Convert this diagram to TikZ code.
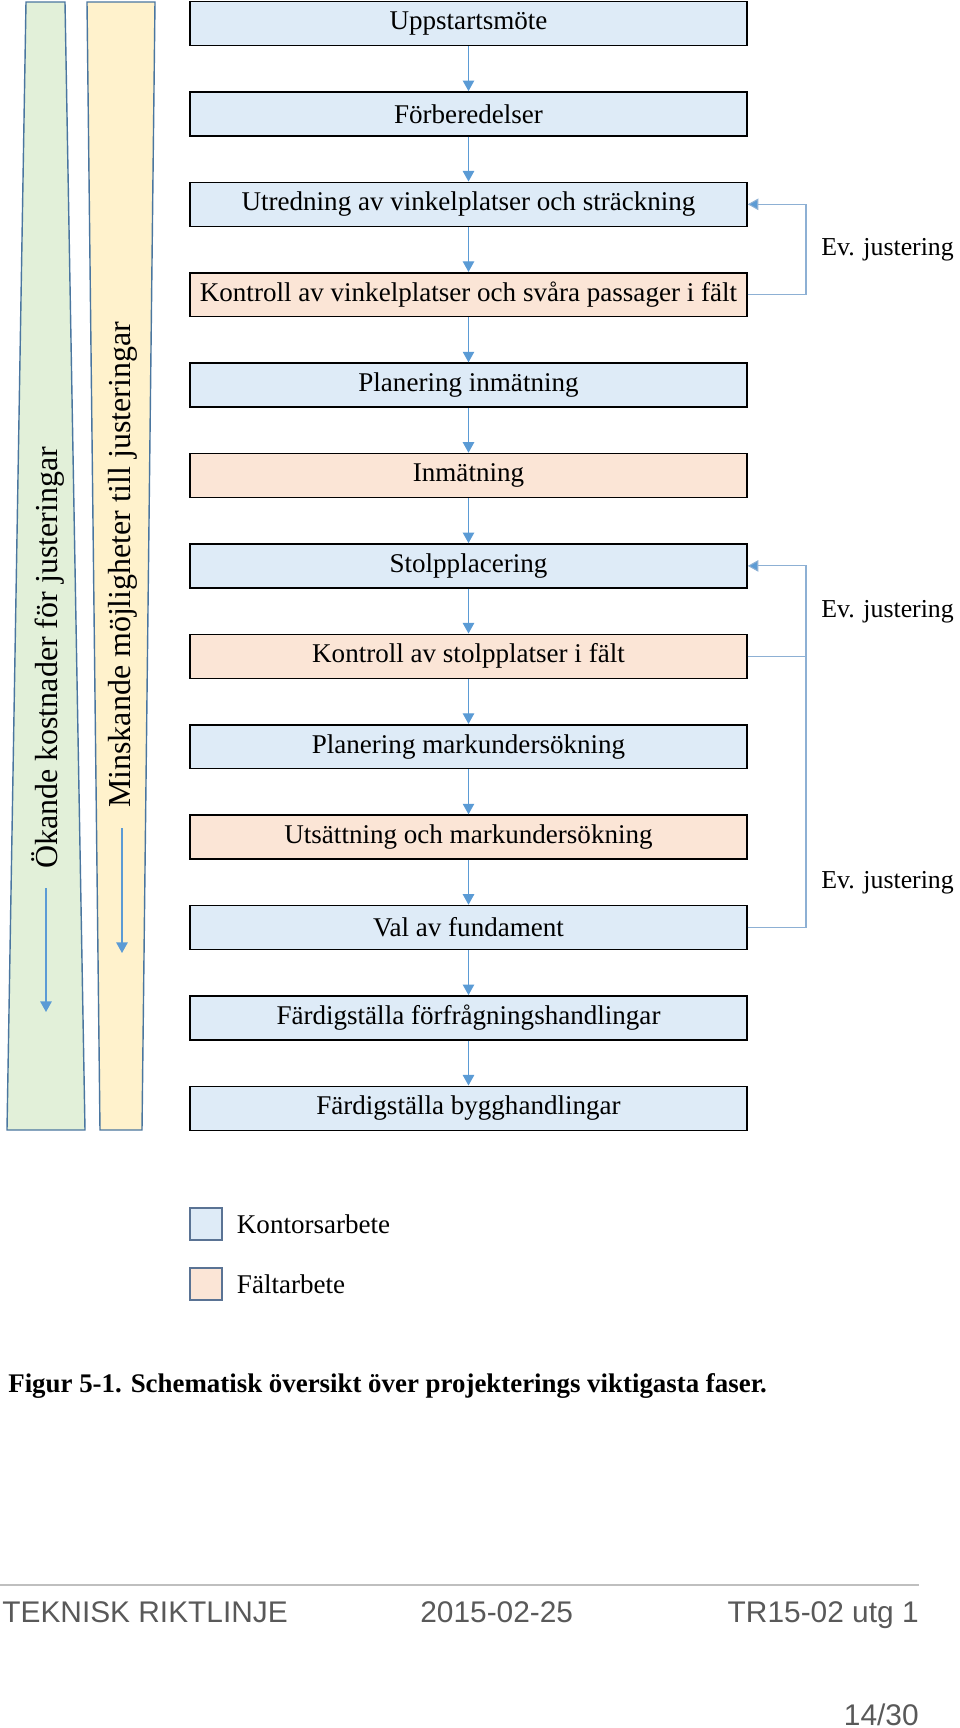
\documentclass[tikz,border=0pt]{standalone}
\usepackage{fontspec}
\setmainfont{Liberation Serif}
\newfontfamily\footfont{Liberation Sans}
\usetikzlibrary{arrows.meta,positioning}

\definecolor{kontorbla}{HTML}{DEEBF7}
\definecolor{faltrosa}{HTML}{FBE5D6}
\definecolor{okandegron}{HTML}{E2F0D9}
\definecolor{minskgul}{HTML}{FFF2CC}
\definecolor{stapelkant}{HTML}{4A76A0}
\definecolor{pilbla}{HTML}{5B9BD5}
\definecolor{returbla}{HTML}{8DB0D4}
\definecolor{legkant}{HTML}{5A7394}
\definecolor{sidfot}{HTML}{595959}

\begin{document}
\begin{tikzpicture}[x=0.02cm, y=-0.02cm,
	fas/.style={draw=black, line width=0.9pt, minimum width=11.14cm, minimum height=0.88cm, inner sep=0pt, font=\fontsize{15.4}{18}\selectfont},
	kontorruta/.style={fas, fill=kontorbla},
	faltruta/.style={fas, fill=faltrosa},
	flode/.style={draw=pilbla, line width=0.7pt, -{Triangle[width=6.5pt,length=6pt]}},
	retur/.style={draw=returbla, line width=0.6pt},
	returpil/.style={retur, -{Triangle[width=6.5pt,length=6pt,fill=pilbla]}},
	stapel/.style={draw=stapelkant, line width=0.8pt},
	sidtext/.style={rotate=90, font=\fontsize{18.2}{22}\selectfont},
	evtext/.style={anchor=west, inner sep=0pt, font=\fontsize{14.7}{18}\selectfont},
	legruta/.style={draw=legkant, line width=0.7pt, minimum size=0.64cm, inner sep=0pt},
	fottext/.style={text=sidfot, inner sep=0pt, font=\footfont\fontsize{17}{20}\selectfont}]

	\useasboundingbox (0,0) rectangle (960,1728);

	\filldraw[stapel, fill=okandegron] (26,2) -- (65,2) -- (85,1130) -- (7,1130) -- cycle;
	\filldraw[stapel, fill=minskgul] (87,2) -- (155,2) -- (142,1130) -- (100,1130) -- cycle;
	\node[sidtext] (okande) at (48,658) {Ökande kostnader för justeringar};
	\node[sidtext] (minskande) at (123,565) {Minskande möjligheter till justeringar};
	\coordinate (okstart) at (46,888);
	\coordinate (okslut) at (46,1012);
	\coordinate (mistart) at (122,828);
	\coordinate (mislut) at (122,953);
	\draw[flode] (okstart) -- (okslut);
	\draw[flode] (mistart) -- (mislut);

	\node[kontorruta] (b1) at (468.5,23.5) {Uppstartsmöte};
	\node[kontorruta] (b2) at (468.5,113.9) {Förberedelser};
	\node[kontorruta] (b3) at (468.5,204.3) {Utredning av vinkelplatser och sträckning};
	\node[faltruta] (b4) at (468.5,294.7) {Kontroll av vinkelplatser och svåra passager i fält};
	\node[kontorruta] (b5) at (468.5,385.1) {Planering inmätning};
	\node[faltruta] (b6) at (468.5,475.5) {Inmätning};
	\node[kontorruta] (b7) at (468.5,565.9) {Stolpplacering};
	\node[faltruta] (b8) at (468.5,656.3) {Kontroll av stolpplatser i fält};
	\node[kontorruta] (b9) at (468.5,746.7) {Planering markundersökning};
	\node[faltruta] (b10) at (468.5,837.1) {Utsättning och markundersökning};
	\node[kontorruta] (b11) at (468.5,927.5) {Val av fundament};
	\node[kontorruta] (b12) at (468.5,1017.9) {Färdigställa förfrågningshandlingar};
	\node[kontorruta] (b13) at (468.5,1108.3) {Färdigställa bygghandlingar};

	\draw[flode] (b1) -- (b2);
	\draw[flode] (b2) -- (b3);
	\draw[flode] (b3) -- (b4);
	\draw[flode] (b4) -- (b5);
	\draw[flode] (b5) -- (b6);
	\draw[flode] (b6) -- (b7);
	\draw[flode] (b7) -- (b8);
	\draw[flode] (b8) -- (b9);
	\draw[flode] (b9) -- (b10);
	\draw[flode] (b10) -- (b11);
	\draw[flode] (b11) -- (b12);
	\draw[flode] (b12) -- (b13);

	\coordinate (retx) at (806,0);
	\draw[returpil] (b4.east) -- (b4.east -| retx) -- (b3.east -| retx) -- (b3.east);
	\draw[returpil] (b11.east) -- (b11.east -| retx) -- (b7.east -| retx) -- (b7.east);
	\draw[retur] (b8.east) -- (b8.east -| retx);
	\node[evtext] (ev1) at (821,250) {Ev. justering};
	\node[evtext] (ev2) at (821,612) {Ev. justering};
	\node[evtext] (ev3) at (821,883) {Ev. justering};

	\node[legruta, fill=kontorbla] (legkontor) at (206,1224) {};
	\node[legruta, fill=faltrosa] (legfalt) at (206,1284) {};
	\node[evtext, right=0.28cm of legkontor, font=\fontsize{15.4}{18}\selectfont] (legkontortext) {Kontorsarbete};
	\node[evtext, right=0.28cm of legfalt, font=\fontsize{15.4}{18}\selectfont] (legfalttext) {Fältarbete};

	\node[anchor=west, inner sep=0pt, font=\bfseries\fontsize{15.3}{18}\selectfont] (figurtext) at (8,1386) {Figur 5-1. Schematisk översikt över projekterings viktigasta faser.};

	\draw[draw=black!25, line width=1pt] (0,1585) -- (919,1585);
	\node[fottext, anchor=base west] (riktlinje) at (2,1622) {TEKNISK RIKTLINJE};
	\node[fottext, anchor=base west] (datum) at (420,1622) {2015-02-25};
	\node[fottext, anchor=base east] (utgava) at (919,1622) {TR15-02 utg 1};
	\node[fottext, anchor=base east] (sida) at (919,1725) {14/30};
\end{tikzpicture}
\end{document}
